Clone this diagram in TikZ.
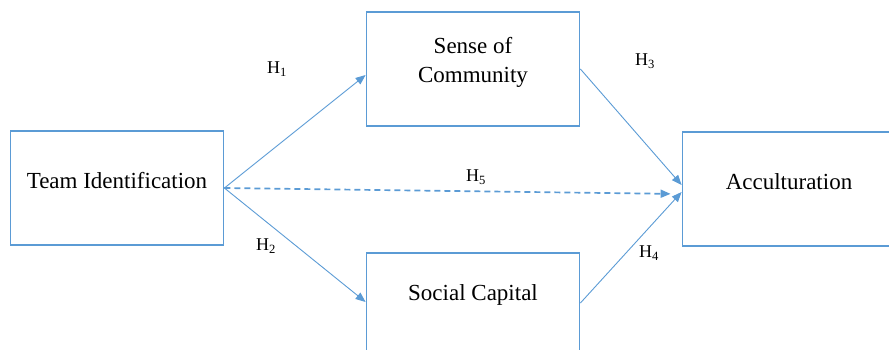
\documentclass[tikz,border=0pt]{standalone}
\usepackage{fontspec}
\setmainfont{Liberation Serif}
\usetikzlibrary{arrows.meta}
\definecolor{officeblue}{HTML}{5B9BD5}
\tikzset{
  box/.style={draw=officeblue, line width=1.8pt, minimum width=213pt, minimum height=114pt, inner sep=0pt},
  boxtext/.style={font=\fontsize{23}{29}\selectfont, align=center},
  hyp/.style={font=\fontsize{18}{22}\selectfont},
  path/.style={draw=officeblue, line width=0.9pt, -{Triangle[length=10pt,width=8pt]}},
  direct/.style={path, line width=1.7pt, dash pattern=on 6pt off 4pt}
}

\begin{document}
\begin{tikzpicture}[x=1pt,y=-1pt]
				\useasboundingbox (0,0) rectangle (889,349);
				\clip (0,0) rectangle (889,349);
				\node[box, label={[boxtext, yshift=7pt]center:Team Identification}] (team) at (117,188) {};
				\node[box, label={[boxtext, yshift=7pt]center:Sense of\\Community}] (soc) at (473,69) {};
				\node[box, label={[boxtext, yshift=15pt]center:Social Capital}] (cap) at (473,310) {};
				\node[box, label={[boxtext, yshift=7pt]center:Acculturation}] (acc) at (789,189) {};
				\draw[path] (team.east) -- ([yshift=-6pt]soc.west);
				\draw[path] (team.east) -- ([yshift=8pt]cap.west);
				\draw[path] (soc.east) -- ([yshift=4pt]acc.west);
				\draw[path] ([yshift=7pt]cap.east) -- ([yshift=-3pt]acc.west);
				\draw[direct, shorten >=11pt] (team.east) -- ([yshift=-5pt]acc.west);
				\node[hyp] (h1) at (277,69) {H\textsubscript{1}};
				\node[hyp] (h2) at (266,246) {H\textsubscript{2}};
				\node[hyp] (h3) at (645,61) {H\textsubscript{3}};
				\node[hyp] (h4) at (649,253) {H\textsubscript{4}};
				\node[hyp] (h5) at (476,177) {H\textsubscript{5}};
			\end{tikzpicture}
\end{document}
